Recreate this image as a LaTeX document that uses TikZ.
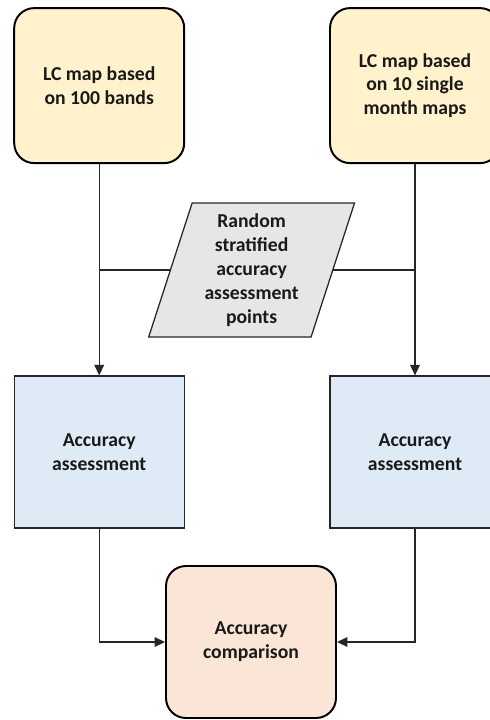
\documentclass[tikz,border=0pt]{standalone}
\usepackage{fontspec}
\setmainfont{Carlito}
\usetikzlibrary{arrows.meta,shapes.geometric}
\definecolor{mapfill}{HTML}{FFF2CC}
\definecolor{accfill}{HTML}{DEEBF7}
\definecolor{cmpfill}{HTML}{FBE5D6}
\definecolor{ptsfill}{HTML}{E7E6E6}
\definecolor{linegray}{HTML}{262626}
\begin{document}
\begin{tikzpicture}[
        font=\fontsize{14}{17}\selectfont\bfseries,
        mapbox/.style={rectangle, draw=black, line width=1.4pt, fill=mapfill, rounded corners=0.5cm, minimum width=4.25cm, minimum height=3.875cm, align=center, text=black!90},
        accbox/.style={rectangle, draw=linegray, line width=0.9pt, fill=accfill, minimum width=4.25cm, minimum height=3.8cm, align=center, text=black!90},
        cmpbox/.style={mapbox, fill=cmpfill, minimum height=3.8cm},
        ptsbox/.style={trapezium, trapezium left angle=73, trapezium right angle=107, trapezium stretches=true, draw=linegray, line width=0.9pt, fill=ptsfill, minimum width=5.15cm, minimum height=3.35cm, align=center, inner sep=0pt, text=black!90},
        line/.style={draw=linegray, line width=0.8pt},
        arrow/.style={line, -{Triangle[length=2.6mm,width=2.4mm]}}
    ]
    \useasboundingbox (0,0) rectangle (12.225,-18);

    % Land cover maps
    \node (lcA) at (2.48,-2.14) [mapbox] {LC map based\\on 100 bands};
    \node (lcB) at (10.375,-2.14) [mapbox] {LC map based\\on 10 single\\month maps};

    % Reference points
    \node (pts) at (6.29,-6.75) [ptsbox] {Random\\stratified\\accuracy\\assessment\\points};

    % Assessments
    \node (accA) at (2.48,-11.3) [accbox] {Accuracy\\assessment};
    \node (accB) at (10.375,-11.3) [accbox] {Accuracy\\assessment};

    \node (cmp) at (6.275,-16.05) [cmpbox] {Accuracy\\comparison};

    % Connectors
    \draw[arrow] (lcA) -- (accA);
    \draw[arrow] (lcB) -- (accB);
    \draw[line] (pts.left side) -- (pts.left side -| lcA.south);
    \draw[line] (pts.right side) -- (pts.right side -| lcB.south);
    \draw[arrow] (accA.south) |- (cmp.west);
    \draw[arrow] (accB.south) |- (cmp.east);

    \end{tikzpicture}
\end{document}
